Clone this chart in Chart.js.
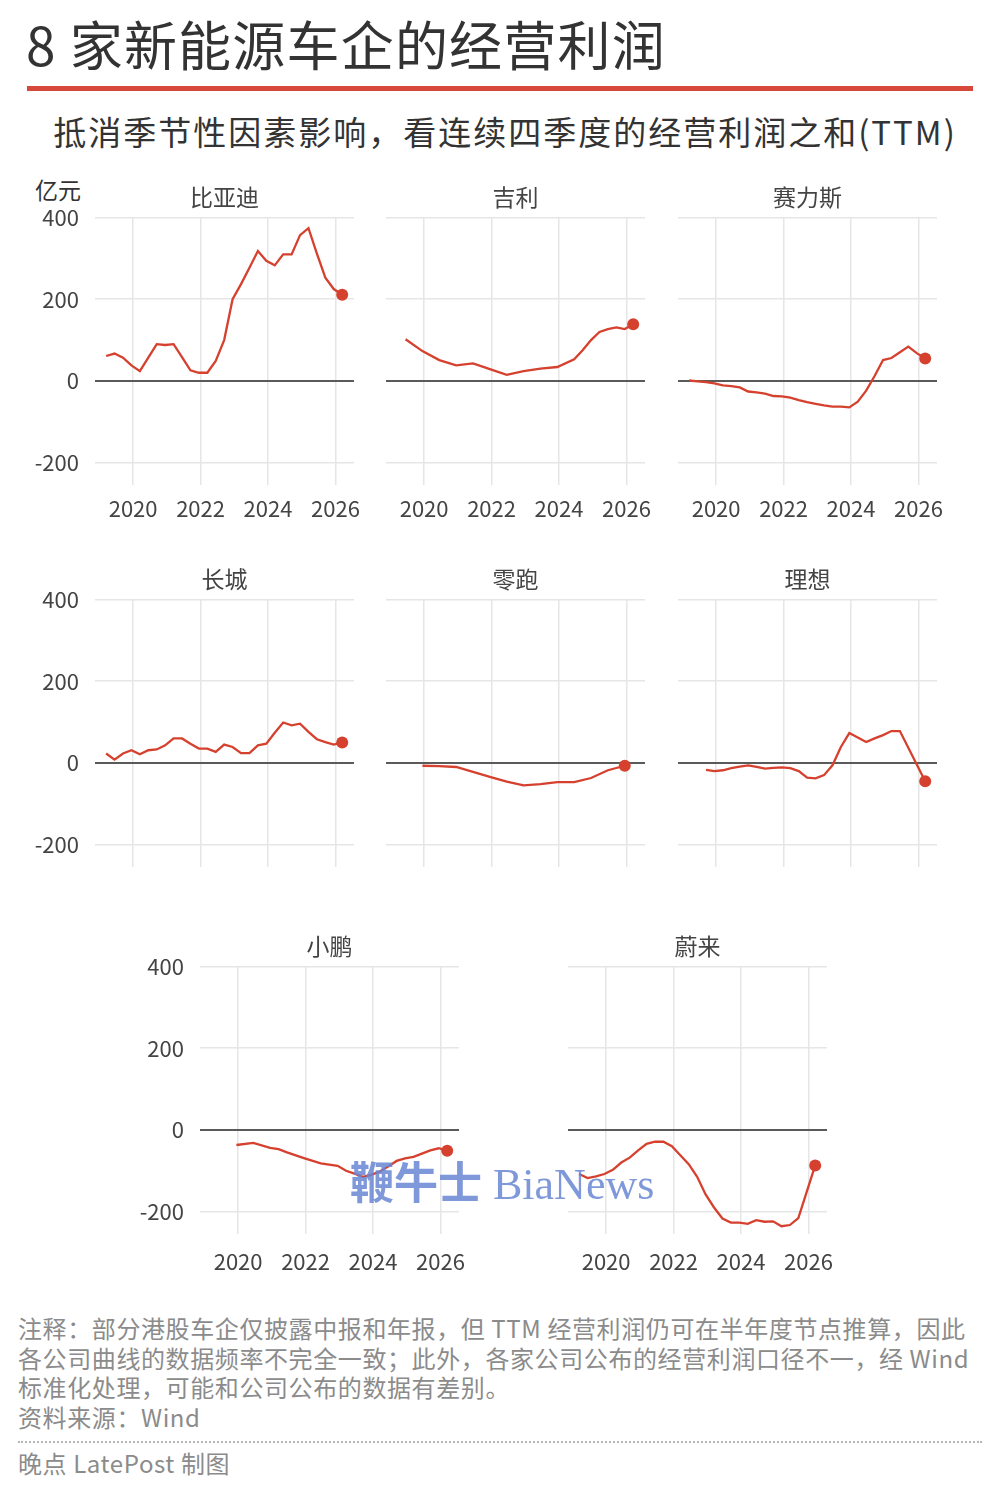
<!DOCTYPE html>
<html lang="zh">
<head>
<meta charset="UTF-8">
<title>8 家新能源车企的经营利润</title>
<script src="https://cdn.jsdelivr.net/npm/chart.js"></script>
<style>
    body { margin: 0; background: #fff; font-family: "Noto Sans CJK SC", "Noto Sans", sans-serif; }
    #page { position: relative; width: 1000px; height: 1486px; overflow: hidden; background: #fff; }
    .abs { position: absolute; white-space: nowrap; }
    #title { left: 26px; top: 10px; font-size: 53px; line-height: 66px; color: #333; letter-spacing: 1.2px; }
    #rule { left: 27px; top: 86px; width: 946px; height: 5px; background: #d6483a; }
    #subtitle { left: 0; width: 1010px; top: 108px; text-align: center; font-size: 33px; line-height: 46px; color: #333; letter-spacing: 2px; }
    #unit { left: 35px; top: 174px; font-size: 23px; line-height: 30px; color: #333; }
    #notes { left: 18px; top: 1313px; font-size: 24px; line-height: 29.5px; color: #8b8b8b; letter-spacing: 0.6px; }
    #dots { left: 18px; top: 1441px; width: 964px; border-top: 2px dotted #b5b5b5; }
    #credit { left: 18px; top: 1447px; font-size: 24px; line-height: 32px; color: #8b8b8b; letter-spacing: 0.6px; }
    #mark { left: 350px; top: 1155px; font-size: 44px; line-height: 50px; color: rgba(104, 134, 212, 0.85); font-family: "Liberation Serif", "DejaVu Serif", serif; }
    #mark b { font-family: "Noto Sans CJK SC", sans-serif; font-weight: 700; }
    canvas { position: absolute; }
</style>
</head>
<body>
<div id="page">
    <div class="abs" id="title">8 家新能源车企的经营利润</div>
    <div class="abs" id="rule"></div>
    <div class="abs" id="subtitle">抵消季节性因素影响，看连续四季度的经营利润之和(TTM)</div>
    <div class="abs" id="unit">亿元</div>

    <div class="abs" id="notes">注释：部分港股车企仅披露中报和年报，但 TTM 经营利润仍可在半年度节点推算，因此<br>各公司曲线的数据频率不完全一致；此外，各家公司公布的经营利润口径不一，经 Wind<br>标准化处理，可能和公司公布的数据有差别。<br>资料来源：Wind</div>
    <div class="abs" id="dots"></div>
    <div class="abs" id="credit">晚点 LatePost 制图</div>
</div>

<script>
    // time axis (decimal years, quarterly steps)
    const quarters = [2019.2, 2019.45, 2019.7, 2019.95, 2020.2, 2020.45, 2020.7, 2020.95,
                      2021.2, 2021.45, 2021.7, 2021.95, 2022.2, 2022.45, 2022.7, 2022.95,
                      2023.2, 2023.45, 2023.7, 2023.95, 2024.2, 2024.45, 2024.7, 2024.95,
                      2025.2, 2025.45, 2025.7, 2025.95, 2026.2];
    const yearTicks = [2020, 2022, 2024, 2026];
    const valueTicks = [-200, 0, 200, 400];

    // TTM operating profit, 亿元 (null = no data at that point)
    const byd   = [61, 67, 57, 38, 24, 57, 90, 88, 90, 58, 26, 20, 20, 49, 100, 200, 237, 277, 318, 294, 283, 310, 310, 357, 374, 312, 253, 225, 211];
    const geely = [null, 102, null, 73, null, 51, null, 38, null, 43, null, 29, null, 15, null, 24, null, 30, null, 34, null, 53, 75, 100, 120, 127, 131, 127, 139];
    const seres = [1, -1, -3, -6, -11, -13, -16, -26, -28, -31, -37, -38, -41, -47, -52, -56, -60, -63, -63, -65, -51, -24, 12, 51, 56, 70, 84, 68, 55];
    const gwm   = [23, 8, 23, 31, 21, 31, 33, 43, 60, 60, 47, 35, 35, 27, 45, 39, 24, 24, 43, 47, 74, 99, 92, 96, 76, 58, 51, 45, 50];
    const leap  = [null, null, null, -7, null, -8, null, -10, null, -22, null, -34, null, -46, null, -55, null, -52, null, -47, null, -47, null, -37, null, -18, null, -7, null];
    const li    = [null, null, -17, -20, -18, -13, -9, -6, -10, -14, -12, -11, -13, -20, -36, -38, -30, -6, 39, 73, 62, 51, 60, 68, 78, 78, null, null, -45];
    const xpeng = [null, null, null, -37, null, -32, null, -44, -47, -55, null, -69, null, -82, null, -88, -100, -107, -115, -110, -102, -90, -76, -70, -66, -58, -50, -45, -51];
    const nio   = [-108, -118, -114, -108, -98, -80, -68, -50, -34, -29, -29, -40, -62, -84, -115, -158, -190, -217, -227, -227, -230, -221, -225, -224, -236, -233, -216, null, -87];

    const names = ['比亚迪', '吉利', '赛力斯', '长城', '零跑', '理想', '小鹏', '蔚来'];
    const series = [byd, geely, seres, gwm, leap, li, xpeng, nio];

    // panel layout: plot-area left/top, whether to show y / x labels
    const panels = [
        { left: 95,  top: 217, showY: true,  showX: true,  xPad: 10 },
        { left: 386, top: 217, showY: false, showX: true,  xPad: 10 },
        { left: 678, top: 217, showY: false, showX: true,  xPad: 10 },
        { left: 95,  top: 599, showY: true,  showX: false, xPad: 10 },
        { left: 386, top: 599, showY: false, showX: false, xPad: 10 },
        { left: 678, top: 599, showY: false, showX: false, xPad: 10 },
        { left: 200, top: 966, showY: true,  showX: true,  xPad: 14 },
        { left: 568, top: 966, showY: false, showX: true,  xPad: 14 }
    ];

    const FONT = '"Noto Sans CJK SC", "Noto Sans", sans-serif';
    const RED = '#d5412e';
    const GRID = '#e6e6e6';
    const PLOT_W = 259, PLOT_H = 268;
    const Y_AXIS_W = 70, TITLE_H = 40, RIGHT_PAD = 14, X_AXIS_H = 48;
    const X_MIN = 2018.87, X_MAX = 2026.55, Y_MIN = -255, Y_MAX = 400;

    Chart.defaults.font.family = FONT;
    Chart.defaults.color = '#444';

    const page = document.getElementById('page');

    panels.forEach((p, i) => {
        const canvas = document.createElement('canvas');
        canvas.width = Y_AXIS_W + PLOT_W + RIGHT_PAD;
        canvas.height = TITLE_H + PLOT_H + X_AXIS_H;
        canvas.style.left = (p.left - Y_AXIS_W) + 'px';
        canvas.style.top = (p.top - TITLE_H) + 'px';
        page.appendChild(canvas);

        const vals = series[i];
        let lastIdx = -1;
        vals.forEach((v, j) => { if (v !== null) lastIdx = j; });
        const pts = quarters.map((q, j) => ({ x: q, y: vals[j] }));

        new Chart(canvas.getContext('2d'), {
            type: 'line',
            data: {
                datasets: [{
                    data: pts,
                    borderColor: RED,
                    backgroundColor: RED,
                    borderWidth: 2.3,
                    tension: 0,
                    spanGaps: true,
                    pointRadius: ctx => ctx.dataIndex === lastIdx ? 6 : 0,
                    pointBorderWidth: 0
                }]
            },
            options: {
                responsive: false,
                animation: false,
                devicePixelRatio: 1,
                layout: { padding: { left: 0, right: RIGHT_PAD, top: 0, bottom: 0 } },
                plugins: {
                    legend: { display: false },
                    tooltip: { enabled: false },
                    title: {
                        display: true,
                        text: names[i],
                        fullSize: false,
                        color: '#444',
                        font: { size: 23, weight: 'normal' },
                        padding: { top: 6, bottom: 7 }
                    }
                },
                scales: {
                    x: {
                        type: 'linear',
                        min: X_MIN,
                        max: X_MAX,
                        afterBuildTicks: s => { s.ticks = yearTicks.map(v => ({ value: v })); },
                        afterFit: s => { s.height = X_AXIS_H; s.paddingLeft = 0; s.paddingRight = 0; },
                        ticks: {
                            display: p.showX,
                            autoSkip: false,
                            maxRotation: 0,
                            padding: p.xPad,
                            color: '#444',
                            font: { size: 22 },
                            callback: v => String(v)
                        },
                        grid: { color: GRID, lineWidth: 1.5, drawTicks: false },
                        border: { display: false }
                    },
                    y: {
                        min: Y_MIN,
                        max: Y_MAX,
                        afterBuildTicks: s => { s.ticks = valueTicks.map(v => ({ value: v })); },
                        afterFit: s => { s.width = Y_AXIS_W; },
                        ticks: {
                            display: p.showY,
                            padding: 16,
                            color: '#444',
                            font: { size: 22 },
                            callback: v => String(v)
                        },
                        grid: {
                            color: ctx => ctx.tick && ctx.tick.value === 0 ? '#5a5a5a' : GRID,
                            lineWidth: ctx => ctx.tick && ctx.tick.value === 0 ? 2 : 1.5,
                            drawTicks: false
                        },
                        border: { display: false }
                    }
                }
            }
        });
    });

    // BiaNews watermark on top
    const mark = document.createElement('div');
    mark.className = 'abs';
    mark.id = 'mark';
    mark.innerHTML = '<b>鞭牛士</b> BiaNews';
    page.appendChild(mark);
</script>
</body>
</html>
